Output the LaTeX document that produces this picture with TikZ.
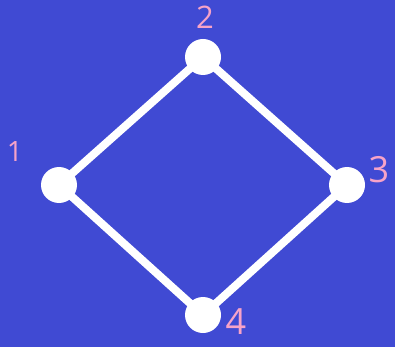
\documentclass[tikz,border=0pt]{standalone}
\usepackage{fontspec}
\setmainfont{Open Sans}
\definecolor{bg}{HTML}{404AD3}
\definecolor{lbl}{HTML}{F7A3C8}
\begin{document}
\begin{tikzpicture}[x=1pt,y=-1pt,
  vert/.style={circle,fill=white,minimum size=36pt,inner sep=0pt},
  edge/.style={draw=white,line width=8pt},
  lab/.style={text=lbl,inner sep=0pt}]
\fill[bg] (0,0) rectangle (395,347);
\useasboundingbox (0,0) rectangle (395,347);
\coordinate (c1) at (59,185);
\coordinate (c2) at (203,57);
\coordinate (c3) at (347,185);
\coordinate (c4) at (203,315);
\draw[edge] (c1) -- (c2) -- (c3) -- (c4) -- cycle;
\node[vert] (n1) at (c1) {};
\node[vert] (n2) at (c2) {};
\node[vert] (n3) at (c3) {};
\node[vert] (n4) at (c4) {};
\node[lab,font=\fontsize{28}{28}\selectfont] (l1) at (15,152) {1};
\node[lab,font=\fontsize{31}{31}\selectfont] (l2) at (205,17) {2};
\node[lab,font=\fontsize{36}{36}\selectfont] (l3) at (379,170) {3};
\node[lab,font=\fontsize{36}{36}\selectfont] (l4) at (236,322) {4};
\end{tikzpicture}
\end{document}
